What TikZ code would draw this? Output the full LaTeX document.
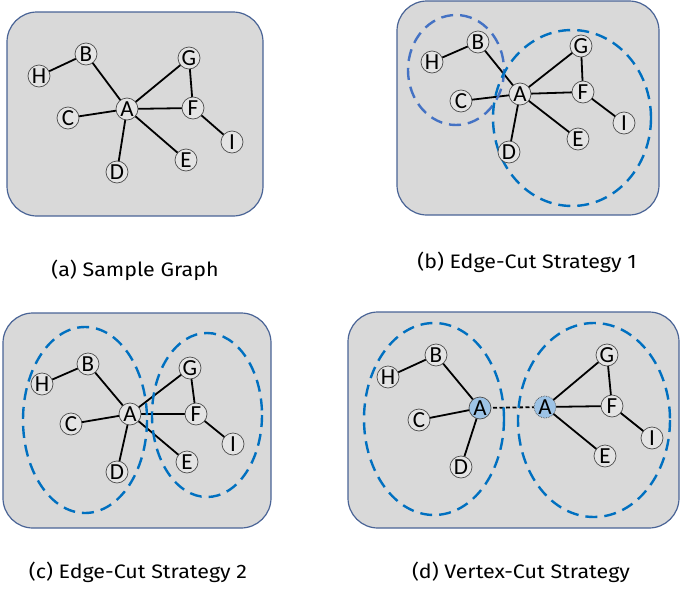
\documentclass[tikz,border=0pt]{standalone}
\usepackage{fontspec}
\setmainfont{Carlito}
\newfontfamily\capfont[FakeStretch=1.1]{Fira Sans}
\definecolor{panelfill}{HTML}{D9D9D9}
\definecolor{panelline}{HTML}{4A6496}
\definecolor{nodefill}{HTML}{E4E4E4}
\definecolor{nodeline}{HTML}{4D4D4D}
\definecolor{cutblue}{HTML}{0070C0}
\definecolor{cutblueb}{HTML}{4472C4}
\definecolor{afill}{HTML}{9DC3E6}
\tikzset{
  panel/.style={draw=panelline, fill=panelfill, line width=1.2pt, rounded corners=30pt},
  vtx/.style={circle, draw=nodeline, fill=nodefill, line width=0.7pt, minimum size=22pt, inner sep=0pt, font=\fontsize{23}{23}\selectfont},
  avtx/.style={vtx, fill=afill},
  edge/.style={line width=1.8pt, black},
  cut/.style={draw=cutblue, line width=2.4pt, dash pattern=on 12pt off 7pt},
  caption/.style={font=\capfont\fontsize{19.5}{19.5}\selectfont, anchor=center}
}
\begin{document}
\begin{tikzpicture}[x=1pt,y=-1pt]
\useasboundingbox (0,0) rectangle (681,592);
% ---------- panel (a)
\draw[panel] (7,12) rectangle (263,216);
\coordinate (aA0) at (127,109);
\coordinate (aB0) at (86,54);
\coordinate (aH0) at (39,76);
\coordinate (aG0) at (189,58);
\coordinate (aF0) at (193,108);
\coordinate (aC0) at (68,118);
\coordinate (aI0) at (232,142);
\coordinate (aE0) at (186,160);
\coordinate (aD0) at (117,172);
\draw[edge] (aH0) -- (aB0) -- (aA0) (aC0) -- (aA0) -- (aG0) (aA0) -- (aF0) (aG0) -- (aF0) -- (aI0) (aA0) -- (aE0) (aA0) -- (aD0);
\node[vtx] (aA) at (aA0) {A};
\node[vtx] (aB) at (aB0) {B};
\node[vtx] (aH) at (aH0) {H};
\node[vtx] (aG) at (aG0) {G};
\node[vtx] (aF) at (aF0) {F};
\node[vtx] (aC) at (aC0) {C};
\node[vtx] (aI) at (aI0) {I};
\node[vtx] (aE) at (aE0) {E};
\node[vtx] (aD) at (aD0) {D};
\node[caption] (capa) at (135,270) {(a) Sample Graph};
% ---------- panel (b)
\draw[panel] (397,1) rectangle (659,215);
\coordinate (bA0) at (520,94);
\coordinate (bB0) at (478,42);
\coordinate (bH0) at (432,62);
\coordinate (bG0) at (581,46);
\coordinate (bF0) at (583,92);
\coordinate (bC0) at (461,101);
\coordinate (bI0) at (624,123);
\coordinate (bE0) at (578,139);
\coordinate (bD0) at (509,152);
\draw[edge] (bH0) -- (bB0) -- (bA0) (bC0) -- (bA0) -- (bG0) (bA0) -- (bF0) (bG0) -- (bF0) -- (bI0) (bA0) -- (bE0) (bA0) -- (bD0);
\draw[cut, draw=cutblueb] (456,70) ellipse [x radius=48, y radius=55];
\draw[cut] (572,118) ellipse [x radius=79, y radius=88];
\node[vtx] (bA) at (bA0) {A};
\node[vtx] (bB) at (bB0) {B};
\node[vtx] (bH) at (bH0) {H};
\node[vtx] (bG) at (bG0) {G};
\node[vtx] (bF) at (bF0) {F};
\node[vtx] (bC) at (bC0) {C};
\node[vtx] (bI) at (bI0) {I};
\node[vtx] (bE) at (bE0) {E};
\node[vtx] (bD) at (bD0) {D};
\node[caption] (capb) at (527,262) {(b) Edge-Cut Strategy 1};
% ---------- panel (c)
\draw[panel] (3,313) rectangle (271,528);
\coordinate (cA0) at (130,414);
\coordinate (cB0) at (88,364);
\coordinate (cH0) at (42,384);
\coordinate (cG0) at (190,368);
\coordinate (cF0) at (196,414);
\coordinate (cC0) at (71,424);
\coordinate (cI0) at (233,444);
\coordinate (cE0) at (187,462);
\coordinate (cD0) at (117,472);
\draw[edge] (cH0) -- (cB0) -- (cA0) (cC0) -- (cA0) -- (cG0) (cA0) -- (cF0) (cG0) -- (cF0) -- (cI0) (cA0) -- (cE0) (cA0) -- (cD0);
\draw[cut] (85,420) ellipse [x radius=62, y radius=93];
\draw[cut] (207,415) ellipse [x radius=55, y radius=82];
\node[vtx] (cA) at (cA0) {A};
\node[vtx] (cB) at (cB0) {B};
\node[vtx] (cH) at (cH0) {H};
\node[vtx] (cG) at (cG0) {G};
\node[vtx] (cF) at (cF0) {F};
\node[vtx] (cC) at (cC0) {C};
\node[vtx] (cI) at (cI0) {I};
\node[vtx] (cE) at (cE0) {E};
\node[vtx] (cD) at (cD0) {D};
\node[caption] (capc) at (138,572) {(c) Edge-Cut Strategy 2};
% ---------- panel (d)
\draw[panel] (348,312) rectangle (679,528);
\coordinate (dA10) at (480,408);
\coordinate (dA20) at (545,407);
\coordinate (dB0) at (436,355);
\coordinate (dH0) at (388,377);
\coordinate (dC0) at (419,420);
\coordinate (dD0) at (461,467);
\coordinate (dG0) at (607,355);
\coordinate (dF0) at (612,406);
\coordinate (dI0) at (652,438);
\coordinate (dE0) at (605,456);
\draw[edge] (dH0) -- (dB0) -- (dA10) (dC0) -- (dA10) -- (dD0);
\draw[edge] (dA20) -- (dG0) -- (dF0) -- (dI0) (dA20) -- (dF0) (dA20) -- (dE0);
\draw[line width=1.8pt, dash pattern=on 4pt off 2.5pt] (dA10) -- (dA20);
\draw[cut] (434,419) ellipse [x radius=70, y radius=96];
\draw[cut] (594,420) ellipse [x radius=76, y radius=97];
\node[avtx] (dA1) at (dA10) {A};
\node[avtx, densely dotted] (dA2) at (dA20) {A};
\node[vtx] (dB) at (dB0) {B};
\node[vtx] (dH) at (dH0) {H};
\node[vtx] (dC) at (dC0) {C};
\node[vtx] (dD) at (dD0) {D};
\node[vtx] (dG) at (dG0) {G};
\node[vtx] (dF) at (dF0) {F};
\node[vtx] (dI) at (dI0) {I};
\node[vtx] (dE) at (dE0) {E};
\node[caption] (capd) at (521,572) {(d) Vertex-Cut Strategy};
\end{tikzpicture}
\end{document}
